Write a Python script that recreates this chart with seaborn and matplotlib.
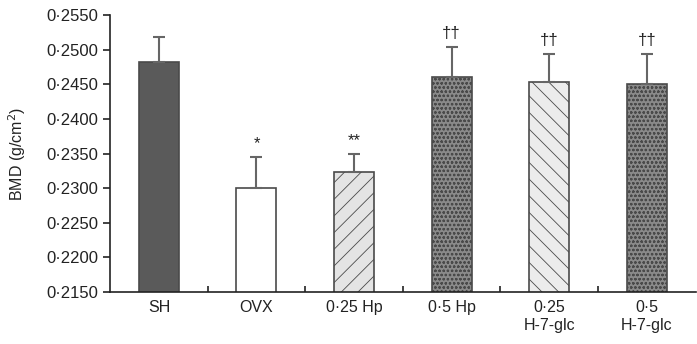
import matplotlib
matplotlib.use("Agg")
import matplotlib.pyplot as plt
import numpy as np
import pandas as pd
import seaborn as sns
from matplotlib.ticker import FixedLocator, FuncFormatter

# values
groups = ["SH", "OVX", "0·25 Hp", "0·5 Hp", "0·25\nH-7-glc", "0·5\nH-7-glc"]
bmd = [0.2482, 0.2300, 0.2323, 0.2460, 0.2454, 0.2450]
sem = [0.0036, 0.0045, 0.0027, 0.0044, 0.0040, 0.0044]
marks = ["", "*", "**", "††", "††", "††"]

faces = ["#5a5a5a", "#ffffff", "#e4e4e4", "#8a8a8a", "#ececec", "#8a8a8a"]
hatches = [None, None, "//", "oooo", "\\\\", "oooo"]

sns.set_theme(style="ticks")
plt.rcParams["font.family"] = ["Liberation Sans", "DejaVu Sans"]
plt.rcParams["hatch.linewidth"] = 0.6

df = pd.DataFrame({"group": groups, "bmd": bmd})

fig = plt.figure(figsize=(6.97, 3.44), dpi=100)
ax = fig.add_axes([0.158, 0.151, 0.840, 0.805])

sns.barplot(
    data=df, x="group", y="bmd", hue="group", palette=faces, legend=False,
    width=0.41, edgecolor="#4a4a4a", linewidth=1.2, ax=ax, errorbar=None
    )

for patch, h in zip(ax.patches, hatches):
    if h:
        patch.set_hatch(h)
        patch.set_edgecolor("#4a4a4a")

x = np.arange(len(groups))
ax.errorbar(
    x, bmd, yerr=[np.zeros(len(sem)), sem], fmt="none", ecolor="#666666",
    elinewidth=1.5, capsize=4, capthick=1.5, zorder=1
    )

for xi, v, e, m in zip(x, bmd, sem, marks):
    if m:
        ax.annotate(m, (xi, v + e), xytext=(0, 4), textcoords="offset points",
                    ha="center", va="bottom", fontsize=12, color="#222222")

ax.set_xlim(-0.5, 5.5)
ax.set_ylim(0.2150, 0.2550)
ax.yaxis.set_major_locator(FixedLocator(np.arange(0.2150, 0.25501, 0.005)))
ax.yaxis.set_major_formatter(
    FuncFormatter(lambda v, p: f"{v:.4f}".replace(".", "·")))
ax.xaxis.set_minor_locator(FixedLocator(np.arange(0.5, 5.0, 1.0)))

ax.tick_params(axis="x", which="major", length=0, pad=6, labelsize=11.5,
               labelcolor="#222222")
ax.tick_params(axis="x", which="minor", direction="in", length=4, width=1.2,
               color="#222222")
ax.tick_params(axis="y", length=5, width=1.2, labelsize=12,
               color="#222222", labelcolor="#222222")

ax.set_xlabel("")
ax.set_ylabel("BMD (g/cm$^{2}$)", fontsize=11.5, color="#222222",
              labelpad=13)
plt.rcParams["mathtext.fontset"] = "custom"
plt.rcParams["mathtext.rm"] = "Liberation Sans"
sns.despine(ax=ax)
for s in ["left", "bottom"]:
    ax.spines[s].set_linewidth(1.2)
    ax.spines[s].set_color("#222222")

fig.savefig("out.png", dpi=100)
